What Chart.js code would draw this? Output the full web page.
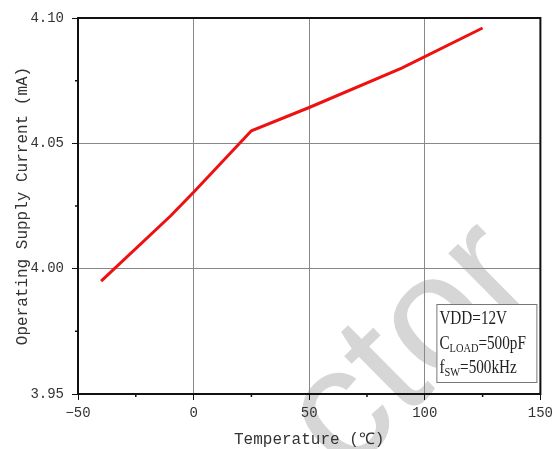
<!DOCTYPE html>
<html>
<head>
<meta charset="utf-8">
<script src="https://cdn.jsdelivr.net/npm/chart.js@4"></script>
<style>
  html, body { margin: 0; padding: 0; background: #fff; }
  #wrap { width: 558px; height: 449px; position: relative; }
</style>
</head>
<body>
<div id="wrap"><canvas id="chart"></canvas></div>
<script>
// ===== Data =====
const temps   = [-40, -10, 0, 25, 50, 90, 125];
const current = [3.995, 4.021, 4.0305, 4.055, 4.0643, 4.080, 4.096];

const xMajor = [-50, 0, 50, 100, 150];
const yMajor = [3.95, 4.00, 4.05, 4.10];
const xMinor = [-25, 25, 75, 125];
const yMinor = [3.975, 4.025, 4.075];

const noteLines = [
  ['VDD=12V', '', ''],
  ['C', 'LOAD', '=500pF'],
  ['f', 'SW', '=500kHz']
];

const monoFont = "'Liberation Mono', monospace";
const serifFont = "'Liberation Serif', serif";

// ===== Watermark, frame, minor ticks, note box =====
const framePlugin = {
  id: 'frame',
  beforeDraw(chart) {
    const { ctx } = chart;
    ctx.save();
    ctx.translate(412, 350);
    ctx.rotate(-0.78);
    ctx.fillStyle = '#d6d6d6';
    ctx.font = "165px 'Liberation Sans', sans-serif";
    ctx.textAlign = 'center';
    ctx.textBaseline = 'alphabetic';
    ctx.fillText('ctor', 0, 44);
    ctx.restore();
  },
  afterDatasetsDraw(chart) {
    const { ctx, chartArea: a, scales: { x, y } } = chart;
    ctx.save();
    ctx.strokeStyle = '#111';
    ctx.lineWidth = 2;
    ctx.strokeRect(a.left, a.top, a.right - a.left, a.bottom - a.top);

    // short minor ticks, outward
    ctx.lineWidth = 1.5;
    ctx.beginPath();
    xMinor.forEach(v => {
      const px = x.getPixelForValue(v);
      ctx.moveTo(px, a.bottom);
      ctx.lineTo(px, a.bottom + 3);
    });
    yMinor.forEach(v => {
      const py = y.getPixelForValue(v);
      ctx.moveTo(a.left, py);
      ctx.lineTo(a.left - 3, py);
    });
    ctx.stroke();

    // note box
    const bx = a.right - 104, by = a.bottom - 90, bw = 100, bh = 78;
    ctx.fillStyle = '#fff';
    ctx.fillRect(bx, by, bw, bh);
    ctx.strokeStyle = '#777';
    ctx.lineWidth = 1;
    ctx.strokeRect(bx + 0.5, by + 0.5, bw, bh);

    ctx.fillStyle = '#222';
    ctx.textBaseline = 'alphabetic';
    const sx = 0.8;
    const base = [20, 45, 69];
    noteLines.forEach((ln, i) => {
      ctx.save();
      ctx.translate(bx + 3, by + base[i]);
      ctx.scale(sx, 1);
      let tx = 0;
      ctx.font = '19px ' + serifFont;
      ctx.fillText(ln[0], tx, 0);
      tx += ctx.measureText(ln[0]).width;
      if (ln[1]) {
        ctx.font = '13px ' + serifFont;
        ctx.fillText(ln[1], tx, 3);
        tx += ctx.measureText(ln[1]).width;
        ctx.font = '19px ' + serifFont;
        ctx.fillText(ln[2], tx, 0);
      }
      ctx.restore();
    });
    ctx.restore();
  }
};

// ===== Chart =====
const ctx = document.getElementById('chart').getContext('2d');
new Chart(ctx, {
  type: 'line',
  data: {
    datasets: [{
      data: temps.map((t, i) => ({ x: t, y: current[i] })),
      borderColor: '#ee1111',
      borderWidth: 3,
      pointRadius: 0,
      tension: 0,
      fill: false
    }]
  },
  options: {
    responsive: true,
    maintainAspectRatio: false,
    animation: false,
    layout: { padding: { top: 18, right: 14, left: 0, bottom: 0 } },
    plugins: { legend: { display: false }, tooltip: { enabled: false } },
    scales: {
      x: {
        type: 'linear',
        min: -50, max: 150,
        afterBuildTicks: s => { s.ticks = xMajor.map(v => ({ value: v })); },
        afterFit: s => { s.height = 55; },
        grid: { color: '#888', lineWidth: 1, tickLength: 6, tickColor: '#111' },
        border: { color: '#111', width: 2 },
        ticks: {
          color: '#333',
          font: { family: monoFont, size: 14 },
          padding: 5,
          callback: v => String(v).replace('-', '−')
        },
        title: {
          display: true,
          text: 'Temperature (℃)',
          color: '#333',
          font: { family: monoFont, size: 16 },
          padding: { top: 3, bottom: 0 }
        }
      },
      y: {
        min: 3.95, max: 4.10,
        afterBuildTicks: s => { s.ticks = yMajor.map(v => ({ value: v })); },
        afterFit: s => { s.width = 78; },
        grid: { color: '#888', lineWidth: 1, tickLength: 6, tickColor: '#111' },
        border: { color: '#111', width: 2 },
        ticks: {
          color: '#333',
          font: { family: monoFont, size: 14 },
          padding: 8,
          callback: v => v.toFixed(2)
        },
        title: {
          display: true,
          text: 'Operating Supply Current (mA)',
          color: '#333',
          font: { family: monoFont, size: 16 },
          padding: { top: 13, bottom: 0 }
        }
      }
    }
  },
  plugins: [framePlugin]
});
</script>
</body>
</html>
